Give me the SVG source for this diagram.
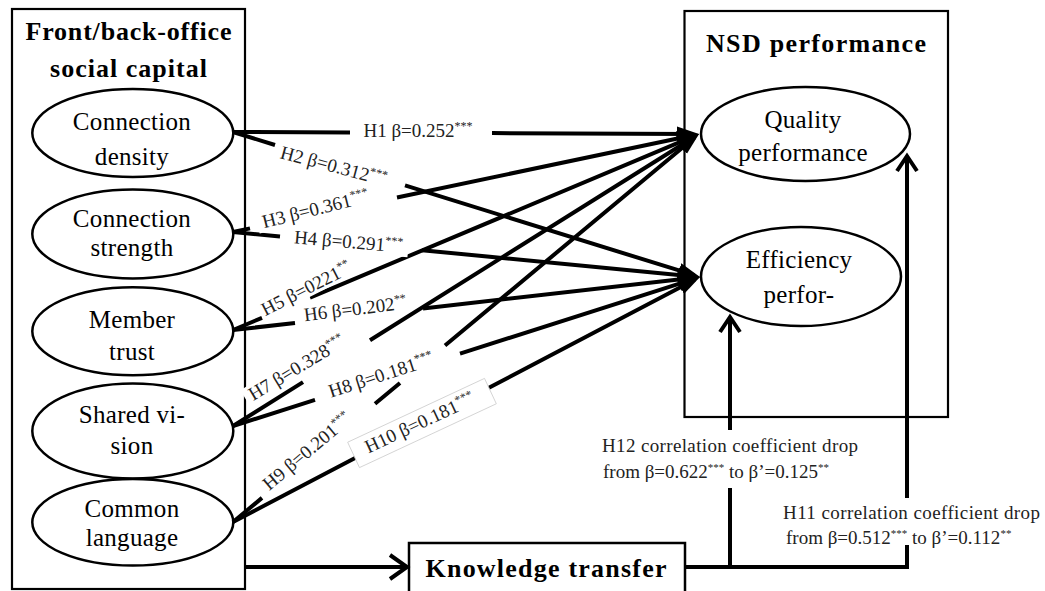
<svg xmlns="http://www.w3.org/2000/svg" width="1045" height="591" viewBox="0 0 1045 591">
<defs>
<style>
.box{fill:none;stroke:#000;stroke-width:2.2}
.node{fill:#fff;stroke:#000;stroke-width:2.5}
.nt{font-family:"Liberation Serif",serif;font-size:25px;letter-spacing:0.3px;text-anchor:middle;fill:#000}
.title{font-family:"Liberation Serif",serif;font-size:26px;font-weight:bold;text-anchor:middle;fill:#000}
.edge{fill:none;stroke:#000;stroke-width:4;marker-end:url(#ah)}
.line{fill:none;stroke:#000;stroke-width:4}
.chev{fill:none;stroke:#000;stroke-width:4;stroke-linejoin:miter}
.lbl{font-family:"Liberation Serif",serif;font-size:19px;fill:#222;text-anchor:middle}
.lbg{fill:#fff}
.note{font-family:"Liberation Serif",serif;font-size:19px;fill:#222}
</style>
<marker id="ah" viewBox="0 0 22 18" refX="16" refY="9" markerWidth="22" markerHeight="18" markerUnits="userSpaceOnUse" orient="auto">
<path d="M0,1.5 L22,9 L0,16.5 z" fill="#000"/>
</marker>
</defs>
<rect x="0" y="0" width="1045" height="591" fill="#fff"/>

<g id="social-capital">
<rect class="box" x="12" y="9" width="233" height="580"/>
<text class="title" x="128.5" y="40" textLength="206" lengthAdjust="spacing">Front/back-office</text>
<text class="title" x="128.5" y="77" textLength="157" lengthAdjust="spacing">social capital</text>
</g>

<g id="nsd-performance">
<rect class="box" x="684.5" y="11" width="263.5" height="406"/>
<text class="title" x="816" y="52" textLength="220" lengthAdjust="spacing">NSD performance</text>
</g>

<g id="n-density">
<ellipse class="node" cx="132.8" cy="133" rx="100.5" ry="44"/>
<text class="nt" x="132" y="130">Connection</text>
<text class="nt" x="132" y="165">density</text>
</g>
<g id="n-strength">
<ellipse class="node" cx="132.8" cy="234" rx="100.5" ry="44.5"/>
<text class="nt" x="132" y="227">Connection</text>
<text class="nt" x="132" y="256">strength</text>
</g>
<g id="n-trust">
<ellipse class="node" cx="132.8" cy="331.2" rx="100.5" ry="44"/>
<text class="nt" x="132" y="328">Member</text>
<text class="nt" x="132" y="360">trust</text>
</g>
<g id="n-vision">
<ellipse class="node" cx="132.8" cy="431" rx="100.5" ry="47.5"/>
<text class="nt" x="132" y="423">Shared vi-</text>
<text class="nt" x="132" y="454">sion</text>
</g>
<g id="n-language">
<ellipse class="node" cx="132.8" cy="522.3" rx="100.5" ry="43.3"/>
<text class="nt" x="132" y="517">Common</text>
<text class="nt" x="132" y="546">language</text>
</g>

<g id="n-quality">
<ellipse class="node" cx="805.5" cy="134" rx="104.5" ry="47"/>
<text class="nt" x="803" y="128">Quality</text>
<text class="nt" x="803" y="161">performance</text>
</g>
<g id="n-efficiency">
<ellipse class="node" cx="801" cy="276.5" rx="100" ry="49.5"/>
<text class="nt" x="799" y="268">Efficiency</text>
<text class="nt" x="799" y="303">perfor-</text>
</g>

<g id="n-knowledge">
<rect x="409" y="543" width="276" height="62" fill="#fff" stroke="#000" stroke-width="2.5"/>
<text class="title" x="546" y="577" textLength="241" lengthAdjust="spacing">Knowledge transfer</text>
</g>

<g id="connectors">
<path class="edge" d="M233,132 L350,132.5 M492,133.1 L693,134"/>
<path class="edge" d="M233,132 L275,145 M405,185.4 L694.3,275.2"/>
<path class="edge" d="M233,232 L250,228.4 M397,197.5 L693.1,135.2"/>
<path class="edge" d="M233,232 L280,236.5 M422,250.2 L694,276.4"/>
<path class="edge" d="M233,330 L262,317.8 M310,297.6 L693.5,136.3"/>
<path class="edge" d="M233,330 L295,323 M423,308.4 L694,277.7"/>
<path class="edge" d="M233,426 L303,382.1 M370,340.2 L693.9,137.2"/>
<path class="edge" d="M233,426 L315,399.8 M460,353.6 L694.3,278.8"/>
<path class="edge" d="M233,522 L262,497.9 M375,403.8 L400,383 M445,345.5 L694.4,137.8"/>
<path class="edge" d="M233,522 L357,456.9 M487,388.8 L694.7,279.8"/>
<path class="line" d="M245,567 H406"/>
<polyline class="chev" points="390,555 407,567 390,579"/>
<path class="line" d="M685,567 H907 V545 M907,498 V157"/>
<polyline class="chev" points="897,171 907,156 917,171"/>
<path class="line" d="M730,567 V488 M730,430 V318"/>
<polyline class="chev" points="720,332 730,317 740,332"/>
</g>

<g id="labels">
<g transform="translate(418,137)"><rect class="lbg" x="-60" y="-16" width="120" height="20"/><text class="lbl">H1 β=0.252<tspan font-size="12" dy="-7">***</tspan></text></g>
<g transform="translate(332,172) rotate(15)"><rect class="lbg" x="-60" y="-16" width="120" height="20"/><text class="lbl">H2 β=0.312<tspan font-size="12" dy="-7">***</tspan></text></g>
<g transform="translate(317,215) rotate(-14)"><rect class="lbg" x="-60" y="-16" width="120" height="20"/><text class="lbl">H3 β=0.361<tspan font-size="12" dy="-7">***</tspan></text></g>
<g transform="translate(348,248) rotate(5)"><rect class="lbg" x="-60" y="-16" width="120" height="20"/><text class="lbl">H4 β=0.291<tspan font-size="12" dy="-7">***</tspan></text></g>
<g transform="translate(309,294) rotate(-27)"><rect class="lbg" x="-51" y="-16" width="102" height="19"/><text class="lbl">H5 β=0221<tspan font-size="12" dy="-7">**</tspan></text></g>
<g transform="translate(356,315) rotate(-7)"><rect class="lbg" x="-57" y="-16" width="114" height="19"/><text class="lbl">H6 β=0.202<tspan font-size="12" dy="-7">**</tspan></text></g>
<g transform="translate(300,373) rotate(-31)"><rect class="lbg" x="-60" y="-16" width="120" height="20"/><text class="lbl">H7 β=0.328<tspan font-size="12" dy="-7">***</tspan></text></g>
<g transform="translate(383,381) rotate(-18)"><rect class="lbg" x="-60" y="-16" width="120" height="20"/><text class="lbl">H8 β=0.181<tspan font-size="12" dy="-7">***</tspan></text></g>
<g transform="translate(311,456) rotate(-40)"><rect class="lbg" x="-60" y="-16" width="120" height="20"/><text class="lbl">H9 β=0.201<tspan font-size="12" dy="-7">***</tspan></text></g>
<g transform="translate(422,423) rotate(-25)"><rect x="-75.5" y="-14" width="151" height="28" fill="#fff" stroke="#cfcfcf" stroke-width="0.8"/><text class="lbl" x="-2" y="5">H10 β=0.181<tspan font-size="12" dy="-7">***</tspan></text></g>

<text class="note" x="602" y="452" textLength="256" lengthAdjust="spacing">H12 correlation coefficient drop</text>
<text class="note" x="603" y="478">from β=0.622<tspan font-size="11" dy="-7">***</tspan><tspan dy="7"> to β’=0.125</tspan><tspan font-size="11" dy="-7">**</tspan></text>
<text class="note" x="783" y="519" textLength="257" lengthAdjust="spacing">H11 correlation coefficient drop</text>
<text class="note" x="786" y="544">from β=0.512<tspan font-size="11" dy="-7">***</tspan><tspan dy="7"> to β’=0.112</tspan><tspan font-size="11" dy="-7">**</tspan></text>
</g>
</svg>
